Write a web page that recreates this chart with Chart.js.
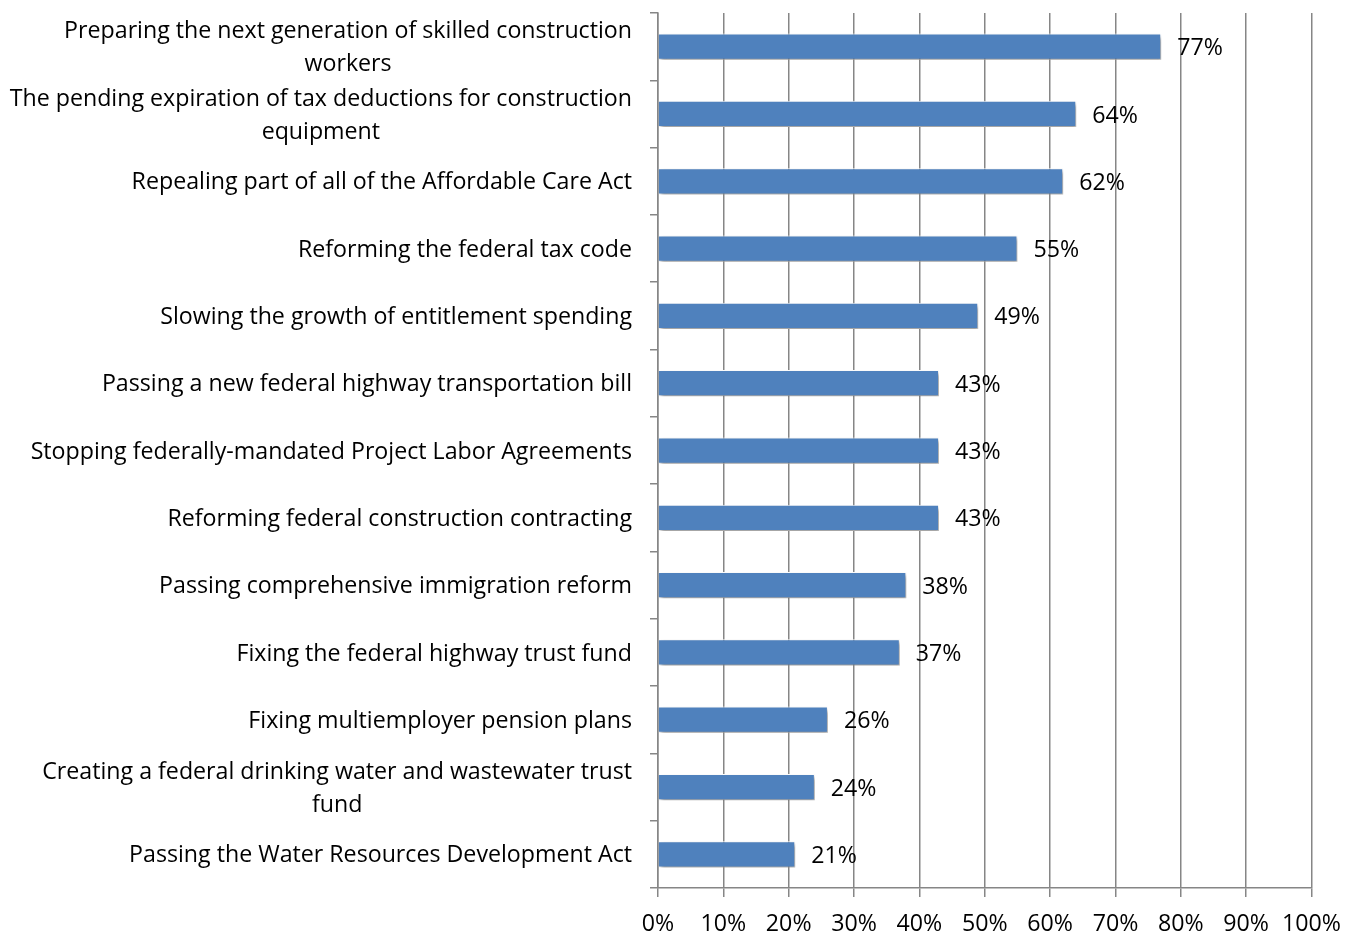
<!DOCTYPE html>
<html>
<head>
<meta charset="utf-8">
<script src="https://cdn.jsdelivr.net/npm/chart.js@4"></script>
<style>
  html, body { margin: 0; padding: 0; background: #fff; }
  #wrap { width: 1354px; height: 933px; }
</style>
</head>
<body>
<div id="wrap"><canvas id="myChart"></canvas></div>
<script>
        const issues = [
          ['Preparing the next generation of skilled construction', 'workers'],
          ['The pending expiration of tax deductions for construction', 'equipment'],
          'Repealing part of all of the Affordable Care Act',
          'Reforming the federal tax code',
          'Slowing the growth of entitlement spending',
          'Passing a new federal highway transportation bill',
          'Stopping federally-mandated Project Labor Agreements',
          'Reforming federal construction contracting',
          'Passing comprehensive immigration reform',
          'Fixing the federal highway trust fund',
          'Fixing multiemployer pension plans',
          ['Creating a federal drinking water and wastewater trust', 'fund'],
          'Passing the Water Resources Development Act',
        ];

        const shares = [77, 64, 62, 55, 49, 43, 43, 43, 38, 37, 26, 24, 21];

        const xTicks = ['0%', '10%', '20%', '30%', '40%', '50%', '60%', '70%', '80%', '90%', '100%'];

        const FONT = '23.2px "Open Sans"';
        const axisGray = '#868686';

        // soft drop shadow under the bars
        const barShadow = {
          id: 'barShadow',
          beforeDatasetsDraw(chart) {
            const ctx = chart.ctx;
            ctx.save();
            ctx.shadowColor = 'rgba(0,0,0,0.4)';
            ctx.shadowBlur = 4;
            ctx.shadowOffsetX = 2;
            ctx.shadowOffsetY = 3;
          },
          afterDatasetsDraw(chart) {
            chart.ctx.restore();
          }
        };

        // percentages to the right of each bar
        const valueLabels = {
          id: 'valueLabels',
          afterDatasetsDraw(chart) {
            const ctx = chart.ctx;
            const meta = chart.getDatasetMeta(0);
            ctx.save();
            ctx.font = FONT;
            ctx.fillStyle = '#000';
            ctx.textAlign = 'left';
            ctx.textBaseline = 'middle';
            meta.data.forEach((bar, i) => {
              ctx.fillText(shares[i] + '%', bar.x + 16, bar.y + 2);
            });
            ctx.restore();
          }
        };

        // category names, wrapped lines centred on each other
        const categoryLabels = {
          id: 'categoryLabels',
          afterDraw(chart) {
            const ctx = chart.ctx;
            const yScale = chart.scales.y;
            const right = yScale.right - 26;
            const lineHeight = 33;
            ctx.save();
            ctx.font = FONT;
            ctx.fillStyle = '#000';
            ctx.textAlign = 'center';
            ctx.textBaseline = 'middle';
            issues.forEach((label, i) => {
              const lines = Array.isArray(label) ? label : [label];
              const w = Math.max(...lines.map(l => ctx.measureText(l).width));
              const cy = yScale.getPixelForTick(i) + 1.5;
              lines.forEach((line, j) => {
                ctx.fillText(line, right - w / 2, cy + (j - (lines.length - 1) / 2) * lineHeight);
              });
            });
            ctx.restore();
          }
        };

        const data = {
          labels: issues,
          datasets: [{
            data: shares,
            backgroundColor: '#4F81BD',
            borderColor: '#ffffff',
            borderWidth: 1,
            barPercentage: 0.39,
            categoryPercentage: 1,
          }]
        };

        const config = {
          type: 'bar',
          data: data,
          options: {
            indexAxis: 'y',
            responsive: true,
            maintainAspectRatio: false,
            animation: false,
            layout: { padding: { top: 13, right: 41, bottom: 0, left: 0 } },
            plugins: {
              legend: { display: false },
              tooltip: { enabled: false },
            },
            scales: {
              x: {
                min: 0,
                max: 100,
                ticks: {
                  stepSize: 10,
                  color: '#000',
                  font: { family: 'Open Sans', size: 23.2 },
                  padding: 13,
                  maxRotation: 0,
                  callback: (v, i) => xTicks[i],
                },
                grid: { color: axisGray, lineWidth: 1.5, tickLength: 9 },
                border: { color: axisGray, width: 1.5 },
                afterFit: (scale) => { scale.height = 45; },
              },
              y: {
                ticks: { display: false },
                grid: { drawOnChartArea: false, color: axisGray, lineWidth: 1.5, tickLength: 8 },
                border: { color: axisGray, width: 1.5 },
                afterFit: (scale) => { scale.width = 658; },
              }
            }
          },
          plugins: [barShadow, valueLabels, categoryLabels]
        };

        const myChart = new Chart(
          document.getElementById('myChart'),
          config
        );
</script>
</body>
</html>
